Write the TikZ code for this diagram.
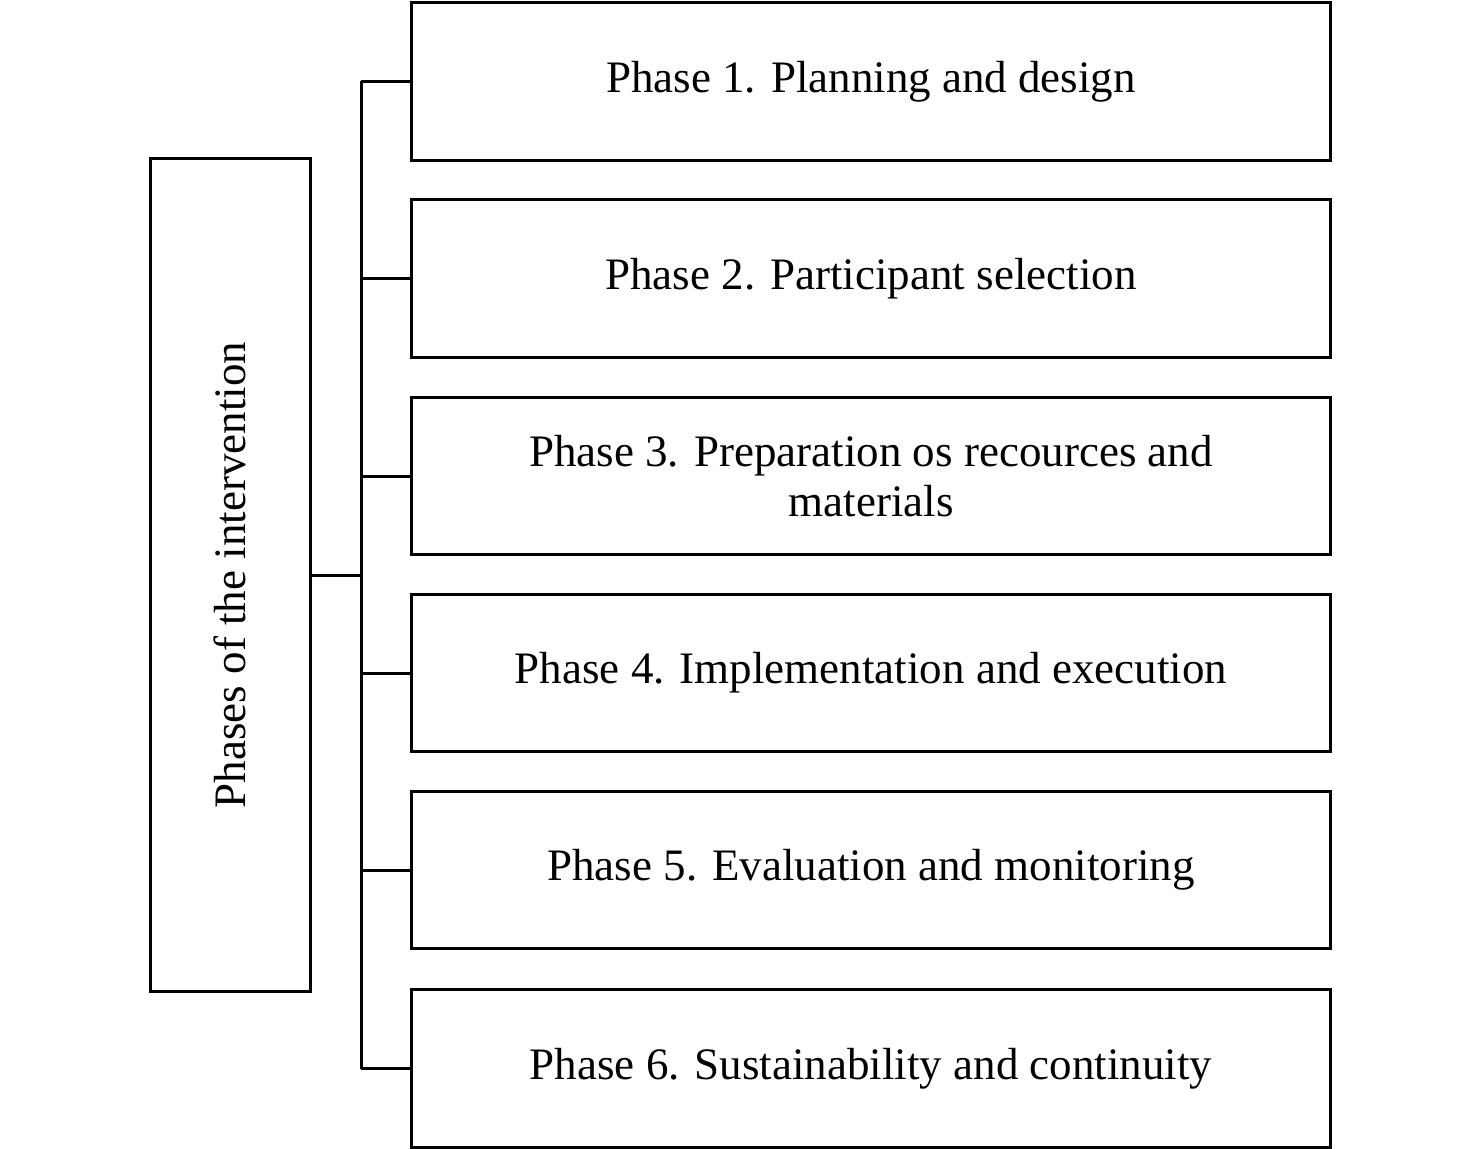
\documentclass[tikz,border=0pt]{standalone}
\usepackage{fontspec}
\setmainfont{Liberation Serif}
\begin{document}
\begin{tikzpicture}[x=0.025cm,y=-0.025cm,line width=0.075cm,
  phase/.style={draw,minimum width=22.95cm,minimum height=3.925cm,align=center,font=\fontsize{32}{36}\selectfont,inner sep=0pt}]
\useasboundingbox (0,0) rectangle (1480,1149);
\node[draw,minimum width=3.975cm,minimum height=20.8cm,inner sep=0pt] (main) at (230.5,575) {};
\node[rotate=90,font=\fontsize{32}{36}\selectfont] (mt) at (230,575) {Phases of the intervention};
\node[phase] (p1) at (871,81.5) {Phase 1. Planning and design};
\node[phase] (p2) at (871,278.5) {Phase 2. Participant selection};
\node[phase] (p3) at (871,476) {Phase 3. Preparation os recources and\\materials};
\node[phase] (p4) at (871,673) {Phase 4. Implementation and execution};
\node[phase] (p5) at (871,870) {Phase 5. Evaluation and monitoring};
\node[phase] (p6) at (871,1068.5) {Phase 6. Sustainability and continuity};
\coordinate (bt) at (361,81.5);
\coordinate (bb) at (361,1068.5);
\draw (bt) -- (bb);
\draw (main.east) -- (main.east -| bt);
\foreach \p in {p1,p2,p3,p4,p5,p6} \draw (\p.west) -- (\p.west -| bt);
\end{tikzpicture}
\end{document}
